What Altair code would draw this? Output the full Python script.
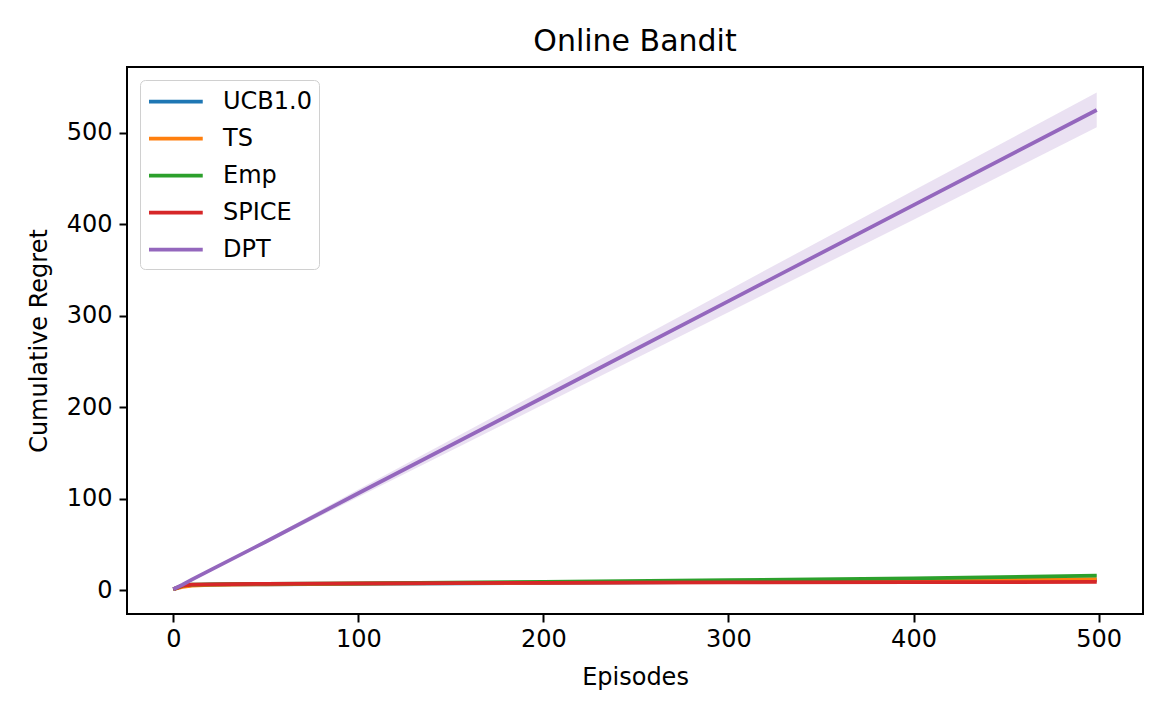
import altair as alt
import pandas as pd

episodes = [0, 5, 10, 20, 50, 100, 200, 300, 400, 499]
series_names = ["UCB1.0", "TS", "Emp", "SPICE", "DPT"]
colors = ["#1f77b4", "#ff7f0e", "#2ca02c", "#d62728", "#9467bd"]

ucb_mean = [1, 4.5, 5.5, 6.0, 6.5, 7.0, 8.0, 9.0, 10.0, 11.0]
ucb_err = [0, 0.5, 0.5, 0.5, 0.6, 0.6, 0.7, 0.8, 0.9, 1.0]
ts_mean = [1, 3.5, 5.0, 5.8, 6.5, 7.2, 8.2, 9.5, 10.5, 12.0]
ts_err = [0, 0.5, 0.5, 0.5, 0.6, 0.6, 0.7, 0.8, 0.9, 1.0]
emp_mean = [1, 5.0, 6.0, 6.5, 7.0, 7.5, 9.0, 11.0, 13.0, 16.0]
emp_err = [0, 0.5, 0.5, 0.5, 0.6, 0.6, 0.7, 0.8, 0.9, 1.0]
spice_mean = [1, 5.0, 6.0, 6.5, 7.0, 7.5, 8.0, 8.5, 8.8, 9.0]
spice_err = [0, 0.5, 0.5, 0.5, 0.6, 0.6, 0.7, 0.8, 0.9, 1.0]
dpt_mean = [1, 6.0, 11.5, 22.0, 53.0, 106.0, 211.0, 316.0, 421.0, 525.0]
dpt_err = [0, 0.3, 0.5, 1.0, 2.0, 4.0, 8.0, 12.0, 16.0, 19.0]

means = [ucb_mean, ts_mean, emp_mean, spice_mean, dpt_mean]
errs = [ucb_err, ts_err, emp_err, spice_err, dpt_err]

FONT = "DejaVu Sans"
color_scale = alt.Scale(domain=series_names, range=colors)
x_scale = alt.Scale(domain=[-25, 524], nice=False, zero=False)
y_scale = alt.Scale(domain=[-26, 572], nice=False, zero=False)

layers = []
for name, col, m, e in zip(series_names, colors, means, errs):
    df = pd.DataFrame({
        "episode": episodes,
        "mean": m,
        "lo": [a - b for a, b in zip(m, e)],
        "hi": [a + b for a, b in zip(m, e)],
        "series": name,
    })
    band = alt.Chart(df).mark_area(opacity=0.2, color=col).encode(
        x=alt.X("episode:Q", scale=x_scale),
        y=alt.Y("lo:Q", scale=y_scale),
        y2="hi:Q",
    )
    line = alt.Chart(df).mark_line(strokeWidth=3.75).encode(
        x=alt.X("episode:Q", scale=x_scale,
                axis=alt.Axis(title="Episodes", values=[0, 100, 200, 300, 400, 500])),
        y=alt.Y("mean:Q", scale=y_scale,
                axis=alt.Axis(title="Cumulative Regret", values=[0, 100, 200, 300, 400, 500])),
        color=alt.Color("series:N", scale=color_scale, title=None,
                        legend=alt.Legend(
                            orient="top-left", offset=13,
                            symbolType="M-1,0H3.3", symbolSize=625, symbolStrokeWidth=3.75,
                            labelFontSize=24, labelFont=FONT, labelColor="black",
                            rowPadding=10, labelOffset=47,
                            padding=7, strokeColor="#d0d0d0", fillColor="white",
                            cornerRadius=5, labelLimit=300)),
    )
    layers.append(band)
    layers.append(line)

chart = alt.layer(*layers).properties(
    width=1016, height=547,
    autosize="none",
    padding={"left": 119, "top": 59, "right": 19, "bottom": 98},
    title=alt.Title("Online Bandit", fontSize=30, font=FONT, fontWeight="normal",
                    color="black", offset=10),
).configure_view(
    stroke="black", strokeWidth=2
).configure_axis(
    grid=False, domain=False, ticks=True, tickSize=8, tickColor="black", tickWidth=2,
    labelFont=FONT, labelFontSize=24, labelColor="black", labelPadding=6,
    titleFont=FONT, titleFontSize=24, titleFontWeight="normal", titleColor="black",
).configure_axisX(titlePadding=14, labelPadding=5).configure_axisY(titlePadding=15, labelPadding=7)

chart.save("out.html", embed_options={"renderer": "svg", "actions": False})
